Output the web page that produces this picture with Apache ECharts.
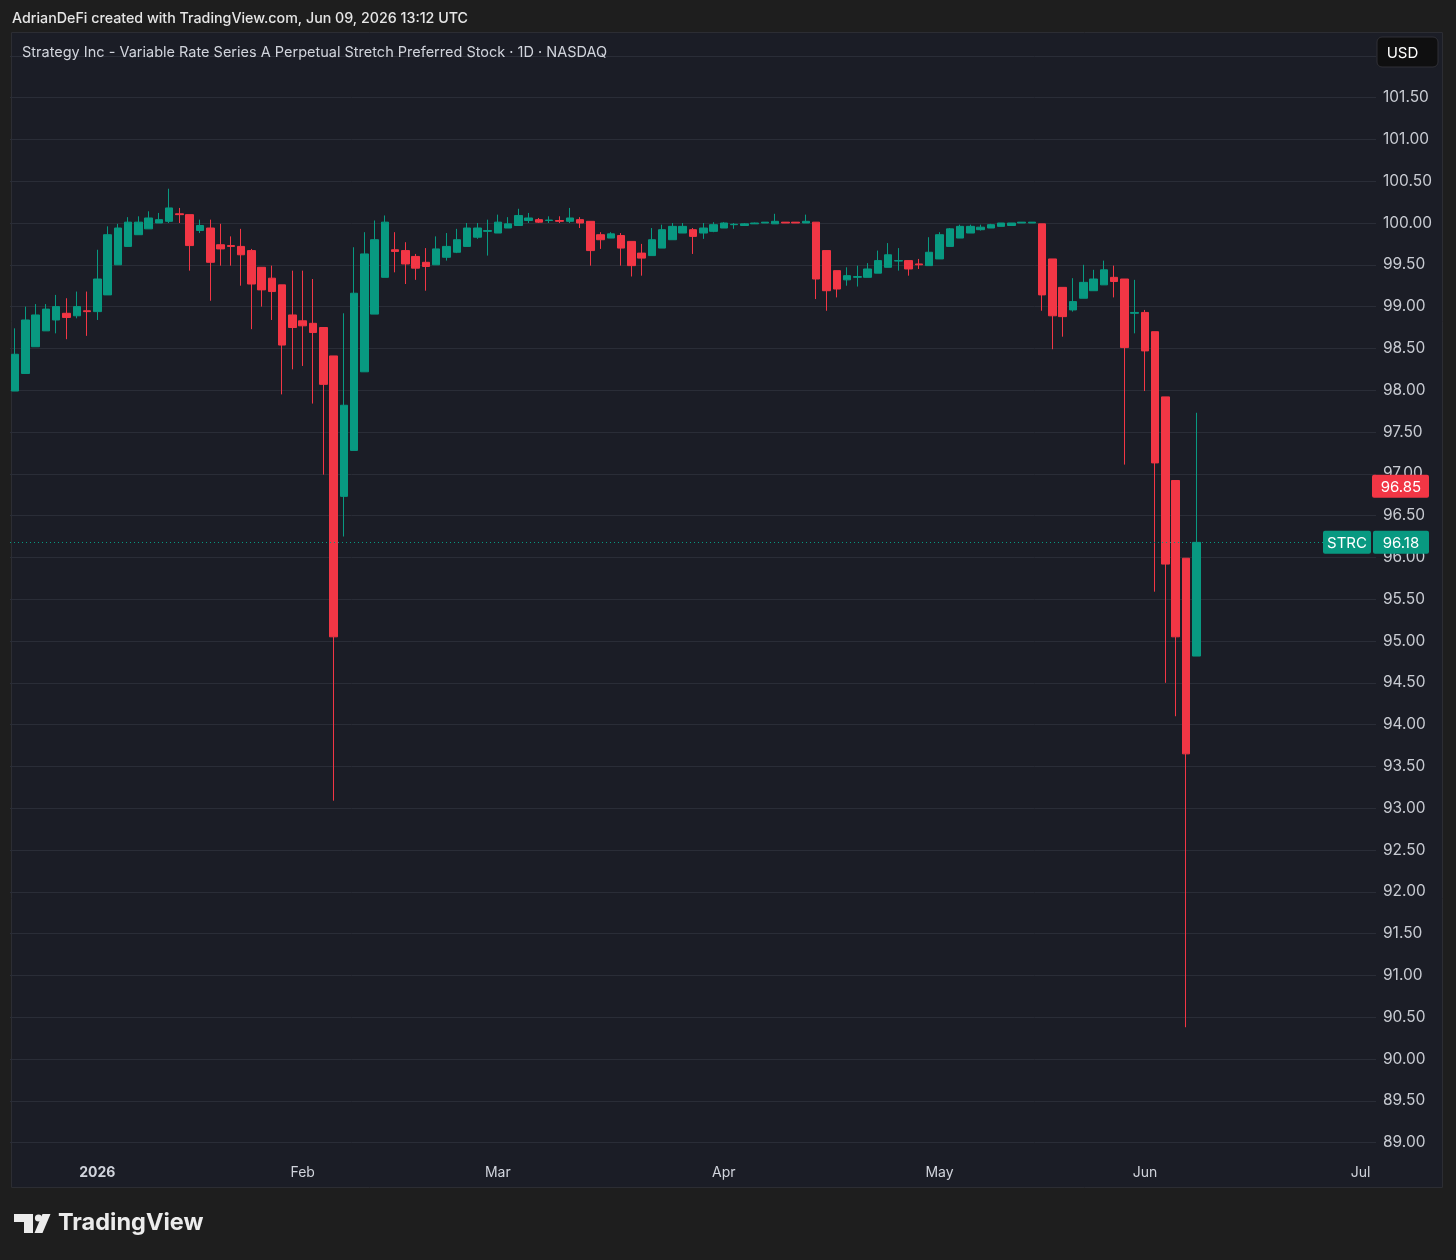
<!DOCTYPE html>
<html>
<head>
<meta charset="utf-8">
<script src="https://cdn.jsdelivr.net/npm/echarts@6/dist/echarts.min.js"></script>
<style>
  html, body { margin: 0; padding: 0; background: #1e1e1e; }
  #chart { width: 1456px; height: 1260px; }
</style>
</head>
<body>
<div id="chart"></div>
<script>
// ---------- DATA ----------
const dates = [
  '2025-12-19','2025-12-22','2025-12-23','2025-12-24','2025-12-26','2025-12-29','2025-12-30','2025-12-31',
  '2026-01-02','2026-01-05','2026-01-06','2026-01-07','2026-01-08','2026-01-09','2026-01-12','2026-01-13','2026-01-14','2026-01-15','2026-01-16','2026-01-20','2026-01-21','2026-01-22','2026-01-23','2026-01-26','2026-01-27','2026-01-28','2026-01-29','2026-01-30',
  '2026-02-02','2026-02-03','2026-02-04','2026-02-05','2026-02-06','2026-02-09','2026-02-10','2026-02-11','2026-02-12','2026-02-13','2026-02-17','2026-02-18','2026-02-19','2026-02-20','2026-02-23','2026-02-24','2026-02-25','2026-02-26','2026-02-27',
  '2026-03-02','2026-03-03','2026-03-04','2026-03-05','2026-03-06','2026-03-09','2026-03-10','2026-03-11','2026-03-12','2026-03-13','2026-03-16','2026-03-17','2026-03-18','2026-03-19','2026-03-20','2026-03-23','2026-03-24','2026-03-25','2026-03-26','2026-03-27','2026-03-30','2026-03-31',
  '2026-04-01','2026-04-02','2026-04-06','2026-04-07','2026-04-08','2026-04-09','2026-04-10','2026-04-13','2026-04-14','2026-04-15','2026-04-16','2026-04-17','2026-04-20','2026-04-21','2026-04-22','2026-04-23','2026-04-24','2026-04-27','2026-04-28','2026-04-29','2026-04-30',
  '2026-05-01','2026-05-04','2026-05-05','2026-05-06','2026-05-07','2026-05-08','2026-05-11','2026-05-12','2026-05-13','2026-05-14','2026-05-15','2026-05-18','2026-05-19','2026-05-20','2026-05-21','2026-05-22','2026-05-26','2026-05-27','2026-05-28','2026-05-29',
  '2026-06-01','2026-06-02','2026-06-03','2026-06-04','2026-06-05','2026-06-08'
];
const futureDates = [
  '2026-06-09','2026-06-10','2026-06-11','2026-06-12','2026-06-15','2026-06-16','2026-06-17','2026-06-18','2026-06-22','2026-06-23','2026-06-24','2026-06-25','2026-06-26','2026-06-29','2026-06-30','2026-07-01','2026-07-02'
];
const openPrices = [
  97.99, 98.20, 98.52, 98.71, 98.84, 98.92, 98.89, 98.95,
  98.94, 99.14, 99.50, 99.72, 99.86, 99.93, 100.00, 100.02, 100.11, 100.10, 99.91, 99.94, 99.74, 99.73, 99.72, 99.67, 99.47, 99.34, 99.26, 98.90,
  98.83, 98.80, 98.75, 98.41, 96.73, 97.28, 98.22, 98.91, 99.35, 99.68, 99.67, 99.60, 99.53, 99.50, 99.59, 99.65, 99.72, 99.83, 99.90,
  99.88, 99.94, 99.97, 100.03, 100.04, 100.03, 100.03, 100.02, 100.04, 100.02, 99.86, 99.82, 99.85, 99.78, 99.64, 99.61, 99.70, 99.80, 99.88, 99.92, 99.88, 99.90,
  99.94, 99.98, 99.97, 99.99, 100.00, 99.99, 100.01, 100.01, 100.00, 100.01, 99.67, 99.43, 99.32, 99.35, 99.35, 99.40, 99.47, 99.545, 99.55, 99.51, 99.49,
  99.57, 99.72, 99.82, 99.88, 99.92, 99.94, 99.96, 99.97, 100.00, 100.00, 99.99, 99.57, 99.23, 98.96, 99.10, 99.19, 99.26, 99.35, 99.33, 98.92,
  98.93, 98.70, 97.92, 96.92, 95.99, 94.82
];
const closePrices = [
  98.43, 98.84, 98.90, 98.97, 99.00, 98.87, 99.00, 98.94,
  99.33, 99.86, 99.94, 100.01, 100.01, 100.06, 100.04, 100.18, 100.10, 99.73, 99.97, 99.53, 99.69, 99.72, 99.62, 99.27, 99.20, 99.18, 98.54, 98.75,
  98.77, 98.69, 98.07, 95.05, 97.82, 99.16, 99.63, 99.80, 100.01, 99.66, 99.51, 99.46, 99.48, 99.69, 99.72, 99.80, 99.94, 99.94, 99.91,
  100.01, 99.99, 100.09, 100.06, 100.01, 100.035, 100.02, 100.06, 100.00, 99.67, 99.80, 99.87, 99.70, 99.49, 99.58, 99.80, 99.92, 99.96, 99.96, 99.84, 99.94, 99.98,
  100.00, 99.985, 99.99, 100.00, 100.01, 100.02, 100.00, 100.00, 100.02, 99.33, 99.19, 99.21, 99.37, 99.36, 99.45, 99.55, 99.62, 99.55, 99.45, 99.50, 99.65,
  99.86, 99.93, 99.96, 99.96, 99.95, 99.98, 100.00, 100.00, 100.01, 100.01, 99.14, 98.89, 98.88, 99.06, 99.29, 99.33, 99.44, 99.30, 98.51, 98.93,
  98.47, 97.13, 95.92, 95.05, 93.65, 96.18
];
const lowPrices = [
  97.99, 98.20, 98.52, 98.71, 98.68, 98.61, 98.86, 98.65,
  98.84, 99.14, 99.50, 99.72, 99.86, 99.93, 100.00, 100.00, 100.00, 99.43, 99.88, 99.07, 99.49, 99.49, 99.25, 98.73, 99.00, 98.84, 97.95, 98.25,
  98.29, 97.84, 96.99, 93.09, 96.25, 97.28, 98.22, 98.91, 99.35, 99.41, 99.27, 99.32, 99.19, 99.50, 99.55, 99.64, 99.72, 99.81, 99.61,
  99.88, 99.94, 99.97, 100.00, 100.00, 100.00, 100.00, 100.00, 99.94, 99.49, 99.69, 99.82, 99.49, 99.36, 99.37, 99.61, 99.70, 99.80, 99.88, 99.63, 99.81, 99.89,
  99.94, 99.93, 99.97, 99.99, 100.00, 99.99, 100.00, 100.00, 100.00, 99.09, 98.95, 99.11, 99.25, 99.24, 99.35, 99.40, 99.47, 99.43, 99.37, 99.45, 99.49,
  99.57, 99.72, 99.82, 99.88, 99.91, 99.94, 99.96, 99.97, 100.00, 100.00, 98.95, 98.49, 98.64, 98.94, 99.10, 99.19, 99.26, 99.11, 97.11, 98.68,
  97.99, 95.59, 94.50, 94.10, 90.38, 94.82
];
const highPrices = [
  98.74, 99.00, 99.03, 99.03, 99.14, 99.10, 99.18, 99.18,
  99.68, 99.96, 99.99, 100.07, 100.08, 100.14, 100.12, 100.41, 100.18, 100.10, 100.04, 100.04, 99.99, 99.84, 99.93, 99.69, 99.47, 99.49, 99.26, 99.43,
  99.43, 99.33, 98.75, 98.41, 98.92, 99.71, 99.89, 100.03, 100.09, 99.89, 99.77, 99.63, 99.70, 99.84, 99.88, 99.93, 100.00, 100.00, 100.04,
  100.10, 100.07, 100.17, 100.12, 100.06, 100.08, 100.08, 100.18, 100.07, 100.02, 99.89, 99.89, 99.88, 99.78, 99.75, 99.94, 99.98, 100.00, 100.00, 99.94, 100.00, 100.01,
  100.01, 100.00, 100.00, 100.005, 100.01, 100.11, 100.01, 100.01, 100.10, 100.01, 99.67, 99.43, 99.47, 99.49, 99.52, 99.67, 99.76, 99.70, 99.55, 99.57, 99.83,
  99.89, 99.94, 99.98, 99.98, 99.98, 99.99, 100.00, 100.00, 100.01, 100.01, 99.99, 99.57, 99.23, 99.34, 99.50, 99.44, 99.55, 99.49, 99.33, 99.32,
  98.96, 98.70, 97.92, 96.92, 95.99, 97.73
];
const tickLabels = {
  '2026-01-02': '2026', '2026-02-02': 'Feb', '2026-03-02': 'Mar', '2026-04-01': 'Apr',
  '2026-05-01': 'May', '2026-06-01': 'Jun', '2026-07-01': 'Jul'
};
const yearTick = '2026';
const lastPrice = 96.18;
const extendedPrice = 96.85;
const tickerName = 'STRC';
const headerText = 'AdrianDeFi created with TradingView.com, Jun 09, 2026 13:12 UTC';
const titleText = 'Strategy Inc - Variable Rate Series A Perpetual Stretch Preferred Stock \u00b7 1D \u00b7 NASDAQ';
const currencyText = 'USD';

// ---------- BUILD ----------
const UP = '#089981', DOWN = '#f23645';
const FONT = 'Inter, Roboto, "Noto Sans", sans-serif';
const allDates = dates.concat(futureDates);
const candleData = dates.map((d, i) => [openPrices[i], closePrices[i], lowPrices[i], highPrices[i]]);

const chart = echarts.init(document.getElementById('chart'), null, { renderer: 'canvas' });

const option = {
  animation: false,
  backgroundColor: 'transparent',
  grid: { left: 10, right: 80, top: 55.8, bottom: 75.6, containLabel: false },
  xAxis: {
    type: 'category',
    data: allDates,
    boundaryGap: true,
    axisLine: { show: false },
    axisTick: { show: false },
    splitLine: { show: false },
    axisLabel: {
      interval: (idx, val) => tickLabels[val] !== undefined,
      formatter: (val) => {
        const t = tickLabels[val];
        if (t === undefined) return '';
        return t === yearTick ? '{b|' + t + '}' : t;
      },
      margin: -19,
      color: '#d1d4dc',
      fontSize: 14,
      fontFamily: FONT,
      rich: { b: { fontWeight: 'bold', fontSize: 14, color: '#d1d4dc', fontFamily: FONT } }
    }
  },
  yAxis: {
    type: 'value',
    position: 'right',
    min: 88.5,
    max: 102,
    interval: 0.5,
    axisLine: { show: false },
    axisTick: { show: false },
    splitLine: { show: true, showMinLine: false, lineStyle: { color: '#2a2d37', width: 1 } },
    axisLabel: {
      formatter: (v) => v.toFixed(2),
      color: '#c8cbd2',
      fontSize: 15.5,
      fontFamily: FONT,
      margin: 7,
      padding: [3, 0, 0, 0],
      showMinLabel: false,
      showMaxLabel: false
    }
  },
  series: [{
    type: 'candlestick',
    data: candleData,
    barWidth: 8,
    itemStyle: {
      color: UP, color0: DOWN,
      borderColor: UP, borderColor0: DOWN,
      borderWidth: 1
    },
    markLine: {
      silent: true,
      symbol: ['none', 'none'],
      label: { show: false },
      lineStyle: { color: UP, type: [1, 3], width: 1 },
      data: [{ yAxis: lastPrice }]
    }
  }]
};
chart.setOption(option);

const yLast = chart.convertToPixel({ yAxisIndex: 0 }, lastPrice);
const yExt = chart.convertToPixel({ yAxisIndex: 0 }, extendedPrice);

const graphics = [
  // chart panel
  { type: 'rect', z: -1, shape: { x: 11.5, y: 32.5, width: 1431, height: 1155 },
    style: { fill: '#1b1d26', stroke: '#2c2d33', lineWidth: 1 } },
  // header
  { type: 'text', z: 10, left: 12, top: 12,
    style: { text: headerText, fill: '#e6e6e6', font: '500 14.25px ' + FONT } },
  // title
  { type: 'text', z: 10, left: 22, top: 45,
    style: { text: titleText, fill: '#d1d4dc', font: '14.5px ' + FONT } },
  // currency box
  { type: 'rect', z: 10, shape: { x: 1377, y: 37, width: 61, height: 30, r: 5 },
    style: { fill: '#0f0f10', stroke: '#303036', lineWidth: 1 } },
  { type: 'text', z: 11, x: 1402.5, y: 53,
    style: { text: currencyText, fill: '#ffffff', font: '15px ' + FONT, align: 'center', verticalAlign: 'middle' } },
  // extended price label
  { type: 'rect', z: 10, shape: { x: 1372, y: yExt - 11.5, width: 57, height: 23, r: 2 },
    style: { fill: DOWN } },
  { type: 'text', z: 11, x: 1401, y: yExt + 1,
    style: { text: extendedPrice.toFixed(2), fill: '#ffffff', font: '15px ' + FONT, align: 'center', verticalAlign: 'middle' } },
  // ticker + last price labels
  { type: 'rect', z: 10, shape: { x: 1323, y: yLast - 11.5, width: 48, height: 23, r: 2 },
    style: { fill: UP } },
  { type: 'text', z: 11, x: 1347, y: yLast + 1,
    style: { text: tickerName, fill: '#ffffff', font: '15px ' + FONT, align: 'center', verticalAlign: 'middle' } },
  { type: 'rect', z: 10, shape: { x: 1373, y: yLast - 11.5, width: 56, height: 23, r: 2 },
    style: { fill: UP } },
  { type: 'text', z: 11, x: 1401, y: yLast + 1,
    style: { text: lastPrice.toFixed(2), fill: '#ffffff', font: '15px ' + FONT, align: 'center', verticalAlign: 'middle' } },
  // TradingView logo
  { type: 'polygon', z: 10, shape: { points: [[14, 1214], [33, 1214], [33, 1233], [24, 1233], [24, 1222], [14, 1222]] },
    style: { fill: '#ececec' } },
  { type: 'circle', z: 10, shape: { cx: 38.5, cy: 1218, r: 3.6 }, style: { fill: '#ececec' } },
  { type: 'polygon', z: 10, shape: { points: [[42.5, 1214], [50.5, 1214], [42.5, 1233], [34.5, 1233]] },
    style: { fill: '#ececec' } },
  { type: 'text', z: 10, left: 58, top: 1211,
    style: { text: 'TradingView', fill: '#ececec', font: '700 23.5px ' + FONT } }
];
chart.setOption({ graphic: { elements: graphics } });
</script>
</body>
</html>
